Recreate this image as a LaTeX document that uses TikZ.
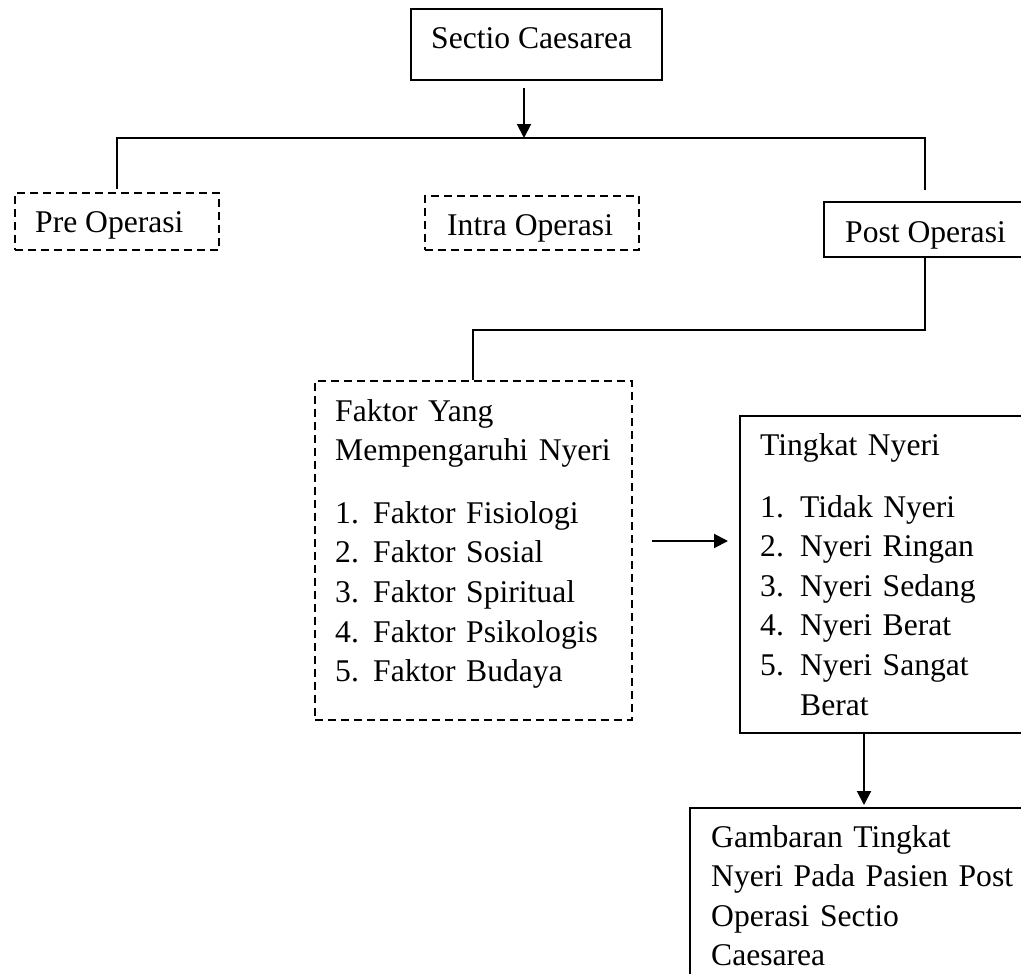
\documentclass[tikz,border=0pt]{standalone}
\usepackage{fontspec}
\setmainfont{Liberation Serif}
\usetikzlibrary{arrows.meta,calc}
\begin{document}
\begin{tikzpicture}[x=1pt,y=-1pt,
  box/.style={draw,line width=1.7pt,inner sep=0pt,anchor=north west},
  dbox/.style={box,dash pattern=on 8pt off 5pt},
  txt/.style={inner sep=0pt,anchor=base west,font=\fontsize{31.6}{39.6}\selectfont},
  mtxt/.style={txt,align=left,text width=#1},
  conn/.style={line width=2pt},
  arr/.style={conn,-{Triangle[length=14pt,width=14pt]}}]
\useasboundingbox (0,0) rectangle (1021,974);
\clip (0,0) rectangle (1021,974);

% boxes
\node[box,minimum width=251pt,minimum height=71pt] (sectio) at (410,8) {};
\node[dbox,minimum width=204pt,minimum height=57pt] (pre) at (14,192) {};
\node[dbox,minimum width=214pt,minimum height=54pt] (intra) at (424,195) {};
\node[box,minimum width=202pt,minimum height=55pt] (post) at (823,201) {};
\node[dbox,minimum width=317pt,minimum height=339pt] (faktor) at (314,380) {};
\node[box,minimum width=291pt,minimum height=317pt] (tingkat) at (739,415) {};
\node[box,minimum width=341pt,minimum height=200pt] (gambaran) at (689,807) {};

% texts
\node[txt] (sectiot) at (431,49) {Sectio Caesarea};
\node[txt] (pret) at (35,232) {Pre Operasi};
\node[txt] (intrat) at (447,235) {Intra Operasi};
\node[txt] (postt) at (845,242) {Post Operasi};
\node[mtxt=285pt] (faktort) at (335,421) {Faktor Yang\\Mempengaruhi Nyeri\\[23pt]%
\makebox[38pt][l]{1.}Faktor Fisiologi\\
\makebox[38pt][l]{2.}Faktor Sosial\\
\makebox[38pt][l]{3.}Faktor Spiritual\\
\makebox[38pt][l]{4.}Faktor Psikologis\\
\makebox[38pt][l]{5.}Faktor Budaya};
\node[mtxt=255pt] (tingkatt) at (760,455) {Tingkat Nyeri\\[22.5pt]%
\makebox[40pt][l]{1.}Tidak Nyeri\\
\makebox[40pt][l]{2.}Nyeri Ringan\\
\makebox[40pt][l]{3.}Nyeri Sedang\\
\makebox[40pt][l]{4.}Nyeri Berat\\
\makebox[40pt][l]{5.}Nyeri Sangat\\
\hspace*{40pt}Berat};
\node[mtxt=305pt] (gambarant) at (711,847) {Gambaran Tingkat\\Nyeri Pada Pasien Post\\Operasi Sectio\\Caesarea};

% connectors
\coordinate (j) at (524,138);
\draw[arr] ([yshift=-7pt]sectio.south -| j) -- (j);
\draw[conn] ([yshift=3pt]pre.north) -- (pre.north |- j) -- (post.north |- j) -- ([yshift=11pt]post.north);
\draw[conn] (post.south) -- ++(0,72) -| (faktor.north);
\draw[arr] ($(faktor.east |- 0,541)+(19,0)$) -- ($(tingkat.west |- 0,541)+(-11,0)$);
\draw[arr] (tingkat.south -| 864,0) -- ($(gambaran.north -| 864,0)+(0,-2)$);
\end{tikzpicture}
\end{document}
